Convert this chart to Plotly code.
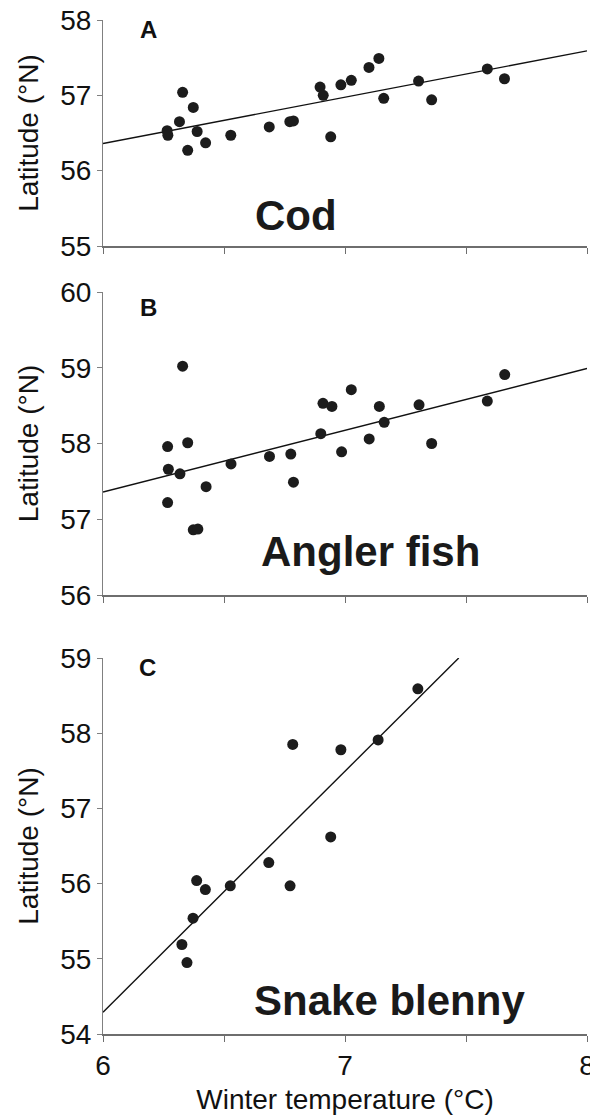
import plotly.graph_objects as go

# ---------------- data ----------------
cod_temp = [6.265, 6.268, 6.316, 6.329, 6.350, 6.373, 6.389, 6.424, 6.528, 6.687,
            6.772, 6.787, 6.897, 6.910, 6.941, 6.983, 7.026, 7.099, 7.140, 7.160,
            7.304, 7.358, 7.588, 7.659]
cod_lat = [56.53, 56.47, 56.65, 57.04, 56.27, 56.84, 56.52, 56.37, 56.47, 56.58,
           56.65, 56.66, 57.11, 57.00, 56.45, 57.14, 57.20, 57.37, 57.49, 56.96,
           57.19, 56.94, 57.35, 57.22]
cod_fit_temp = [6.0, 8.0]
cod_fit_lat = [56.36, 57.59]

angler_temp = [6.267, 6.270, 6.267, 6.318, 6.329, 6.350, 6.373, 6.392, 6.426, 6.529,
               6.688, 6.776, 6.787, 6.900, 6.909, 6.946, 6.986, 7.026, 7.100, 7.142,
               7.162, 7.306, 7.358, 7.588, 7.660]
angler_lat = [57.96, 57.66, 57.22, 57.60, 59.02, 58.01, 56.86, 56.87, 57.43, 57.73,
              57.83, 57.86, 57.49, 58.13, 58.53, 58.49, 57.89, 58.71, 58.06, 58.49,
              58.28, 58.51, 58.00, 58.56, 58.91]
angler_fit_temp = [6.0, 8.0]
angler_fit_lat = [57.36, 58.99]

blenny_temp = [6.326, 6.347, 6.372, 6.387, 6.423, 6.526, 6.685, 6.773, 6.784, 6.941,
               6.983, 7.137, 7.301]
blenny_lat = [55.19, 54.95, 55.54, 56.04, 55.92, 55.97, 56.28, 55.97, 57.85, 56.62,
              57.78, 57.91, 58.59]
blenny_fit_temp = [6.0, 7.47]
blenny_fit_lat = [54.29, 59.0]

panel_letters = ["A", "B", "C"]
species = ["Cod", "Angler fish", "Snake blenny"]
y_ranges = [[55, 58], [56, 60], [54, 59]]
x_tickvals = [6, 6.5, 7, 7.5, 8]
x_ticktext = ["6", "", "7", "", "8"]
y_title = "Latitude (°N)"
x_title = "Winter temperature (°C)"

# ---------------- figure ----------------
W, H = 590, 1115
ML, MR = 103, 3
FONT = "Liberation Sans, Arial, sans-serif"
DOT = "#1c1c1c"
AX = "#808080"
FS = 28

def ydom(top_px, bot_px):
    return [1 - bot_px / H, 1 - top_px / H]

domains = [ydom(20, 246), ydom(292, 595), ydom(658, 1034)]

fig = go.Figure()
series = [
    (cod_temp, cod_lat, cod_fit_temp, cod_fit_lat),
    (angler_temp, angler_lat, angler_fit_temp, angler_fit_lat),
    (blenny_temp, blenny_lat, blenny_fit_temp, blenny_fit_lat),
]
for i, (tx, ty, fx, fy) in enumerate(series):
    xa = "x" if i == 0 else f"x{i+1}"
    ya = "y" if i == 0 else f"y{i+1}"
    fig.add_trace(go.Scatter(x=fx, y=fy, mode="lines", xaxis=xa, yaxis=ya,
                             line=dict(color="#111111", width=1.4),
                             showlegend=False, hoverinfo="skip", cliponaxis=True))
    fig.add_trace(go.Scatter(x=tx, y=ty, mode="markers", xaxis=xa, yaxis=ya,
                             marker=dict(size=11, color=DOT, line=dict(width=0)),
                             showlegend=False, cliponaxis=False))

layout = dict(
    width=W, height=H,
    margin=dict(l=ML, r=MR, t=0, b=0, autoexpand=False),
    paper_bgcolor="white", plot_bgcolor="white",
    font=dict(family=FONT, color="#111111", size=FS),
    showlegend=False,
)

letter_pos = [(6.186, 57.87), (6.186, 59.80), (6.182, 58.88)]
species_pos = [(6.797, 55.40), (7.107, 56.57), (7.182, 54.45)]
annotations = []
for i in range(3):
    xk = "xaxis" if i == 0 else f"xaxis{i+1}"
    yk = "yaxis" if i == 0 else f"yaxis{i+1}"
    anchor_y = "y" if i == 0 else f"y{i+1}"
    anchor_x = "x" if i == 0 else f"x{i+1}"
    last = (i == 2)
    layout[xk] = dict(
        domain=[0, 1], anchor=anchor_y, range=[6, 8], automargin=False,
        showline=True, linecolor="#6e6e6e", linewidth=1.5,
        ticks="outside", ticklen=6, tickcolor="#6e6e6e", tickwidth=1.2,
        tickvals=x_tickvals, ticktext=x_ticktext,
        showticklabels=last, showgrid=False, zeroline=False,
        ticklabeloverflow="allow", ticklabelstandoff=0,
        tickfont=dict(size=FS, color="#111111"),
        title=dict(text=x_title if last else "", font=dict(size=FS, color="#111111"),
                   standoff=22),
    )
    layout[yk] = dict(
        domain=domains[i], anchor=anchor_x, range=y_ranges[i], automargin=False,
        showline=True, linecolor=AX, linewidth=1,
        ticks="outside", ticklen=5, tickcolor=AX, tickwidth=1,
        dtick=1, showgrid=False, zeroline=False,
        tickfont=dict(size=FS, color="#111111"),
        title=dict(text=y_title, font=dict(size=FS, color="#111111"), standoff=13),
    )
    lx, ly = letter_pos[i]
    annotations.append(dict(x=lx, y=ly, xref=anchor_x, yref=anchor_y,
                            text=f"<b>{panel_letters[i]}</b>", showarrow=False,
                            font=dict(size=24, family=FONT, color="#111111"),
                            xanchor="center", yanchor="middle"))
    sx, sy = species_pos[i]
    annotations.append(dict(x=sx, y=sy, xref=anchor_x, yref=anchor_y,
                            text=f"<b>{species[i]}</b>", showarrow=False,
                            font=dict(size=42, family=FONT, color="#1a1a1a"),
                            xanchor="center", yanchor="middle"))
layout["annotations"] = annotations
fig.update_layout(**layout)

fig.write_html("out.html")
